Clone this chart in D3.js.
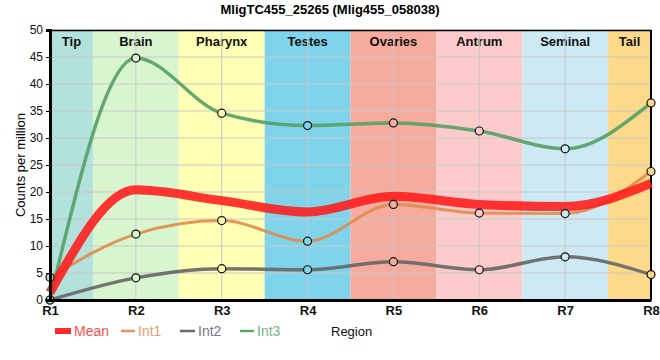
<!DOCTYPE html>
<html><head><meta charset="utf-8">
<script src="https://cdn.jsdelivr.net/npm/d3@7"></script>
<style>body{margin:0;background:#fff;font-family:Arial,"Liberation Sans",sans-serif}</style>
</head><body><svg id="c" width="660" height="360"></svg>
<script>
const regions = ["R1","R2","R3","R4","R5","R6","R7","R8"];
const bandNames = ["Tip","Brain","Pharynx","Testes","Ovaries","Antrum","Seminal","Tail"];
const bandColors = ["#b3e2dd","#d8f5d0","#ffffb5","#7fd3eb","#f5ab9d","#fdcbcc","#cdeaf4","#fdd98b"];
const meanVals = [1.4, 20.4, 18.4, 16.3, 19.2, 17.7, 17.3, 21.6];
const int1Vals = [4.2, 12.2, 14.7, 10.9, 17.7, 16.1, 16.0, 23.8];
const int2Vals = [0.0, 4.1, 5.8, 5.6, 7.1, 5.6, 8.0, 4.7];
const int3Vals = [0.0, 44.8, 34.6, 32.3, 32.8, 31.3, 28.0, 36.5];
const yTicks = [0,5,10,15,20,25,30,35,40,45,50];

const svg = d3.select("#c");
const L=50, R=651, T=30, B=300;
const x = d3.scalePoint().domain(regions).range([L,R]);
const y = d3.scaleLinear().domain([0,50]).range([B,T]);
const step = x.step();

// bands
bandNames.forEach((n,i)=>{
  const x0 = Math.max(L, x(regions[i]) - step/2), x1 = Math.min(R, x(regions[i]) + step/2);
  svg.append("rect").attr("x",x0).attr("y",T).attr("width",x1-x0).attr("height",B-T).attr("fill",bandColors[i]);
  svg.append("text").attr("x",(x0+x1)/2).attr("y",46).attr("text-anchor","middle")
    .attr("font-size",13).attr("font-weight","bold").attr("fill","#111").text(n);
});
// grid
svg.append("g").selectAll("line").data(yTicks).join("line")
  .attr("x1",L).attr("x2",R).attr("y1",d=>y(d)).attr("y2",d=>y(d)).attr("stroke","#c8c8c8").attr("stroke-width",1);
svg.append("g").selectAll("line").data(regions).join("line")
  .attr("x1",d=>x(d)).attr("x2",d=>x(d)).attr("y1",T).attr("y2",B).attr("stroke","#c8c8c8").attr("stroke-width",1);

// border
svg.append("line").attr("x1",L).attr("x2",R).attr("y1",T+0.5).attr("y2",T+0.5).attr("stroke","#000").attr("stroke-width",1.5);
svg.append("line").attr("x1",R).attr("x2",R).attr("y1",T).attr("y2",B).attr("stroke","#000").attr("stroke-width",2);

const line = d3.line().x((d,i)=>x(regions[i])).y(d=>y(d)).curve(d3.curveMonotoneX);
const series = [
  {vals:int1Vals, color:"#e08c4c", w:3, op:0.9, pts:true},
  {vals:int2Vals, color:"#666666", w:3.5, op:0.9, pts:true},
  {vals:int3Vals, color:"#55a066", w:3.5, op:0.9, pts:true},
  {vals:meanVals, color:"#ff1a1a", w:9, op:0.88, pts:false}
];
series.forEach(s=>{
  svg.append("path").attr("d",line(s.vals)).attr("fill","none").attr("stroke",s.color)
    .attr("stroke-width",s.w).attr("stroke-opacity",s.op).attr("stroke-linecap","butt");
});
series.filter(s=>s.pts).forEach(s=>{
  svg.append("g").selectAll("circle").data(s.vals).join("circle")
    .attr("cx",(d,i)=>x(regions[i])).attr("cy",d=>y(d)).attr("r",4)
    .attr("fill",(d,i)=>bandColors[i]).attr("stroke","#111").attr("stroke-width",1.2);
});

// axes
const ya = svg.append("g").attr("transform",`translate(${L},0)`)
  .call(d3.axisLeft(y).tickValues(yTicks).tickSize(4).tickPadding(3));
ya.select(".domain").attr("stroke","#000").attr("stroke-width",3);
ya.selectAll("text").attr("font-size",12).attr("font-family","Arial,sans-serif").attr("fill","#111");
const xa = svg.append("g").attr("transform",`translate(0,${B})`)
  .call(d3.axisBottom(x).tickSize(0).tickPadding(6));
xa.select(".domain").attr("stroke","#000").attr("stroke-width",3);
xa.selectAll("text").attr("font-size",13).attr("font-weight","bold").attr("font-family","Arial,sans-serif").attr("fill","#111");

// title
svg.append("text").attr("x",330).attr("y",14).attr("text-anchor","middle").attr("font-size",13)
  .attr("font-weight","bold").text("MligTC455_25265 (Mlig455_058038)");
svg.append("text").attr("transform","translate(25,165) rotate(-90)").attr("text-anchor","middle")
  .attr("font-size",13).text("Counts per million");

// legend
const leg = [
  {name:"Mean", color:"#ff2a2a", text:"#ff4d4d", x:55, w:16, h:6},
  {name:"Int1", color:"#e69560", text:"#e8a070", x:121, w:14, h:2.5},
  {name:"Int2", color:"#6a6a6a", text:"#777788", x:180, w:15, h:2.5},
  {name:"Int3", color:"#5ea870", text:"#70b585", x:240, w:14, h:2.5}
];
leg.forEach(d=>{
  svg.append("rect").attr("x",d.x).attr("y",331-d.h/2).attr("width",d.w).attr("height",d.h).attr("fill",d.color);
  svg.append("text").attr("x",d.x+d.w+3).attr("y",336).attr("font-size",14).attr("fill",d.text).text(d.name);
});
svg.append("text").attr("x",331).attr("y",336).attr("font-size",13).attr("fill","#111").text("Region");
</script></body></html>
